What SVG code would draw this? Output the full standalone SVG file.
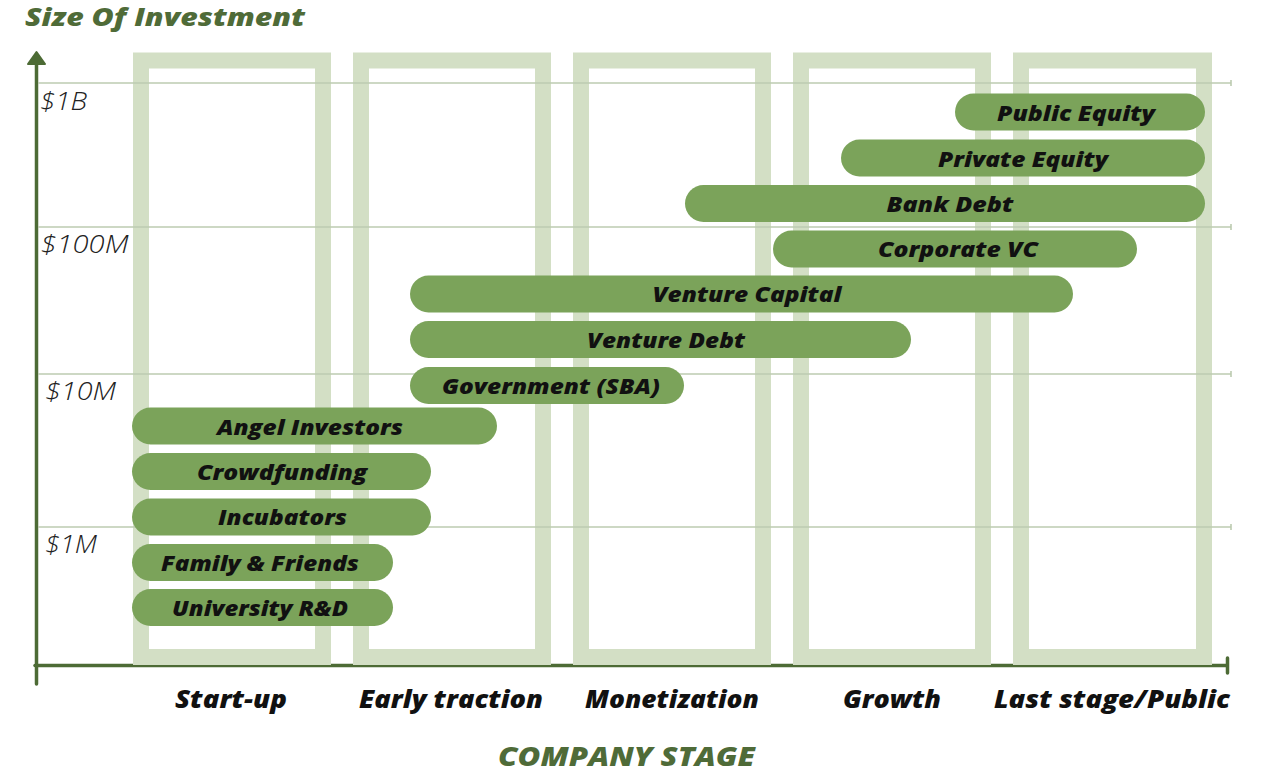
<svg xmlns="http://www.w3.org/2000/svg" width="1272" height="774" viewBox="0 0 1272 774">
<style>
.bg{fill:#ffffff}
.frame{fill:none;stroke:#d3dfc5;stroke-width:16}
.grid{stroke:#bccbb0;stroke-width:1.6;fill:none}
.axis{stroke:#4d6b35;stroke-width:3.5;fill:none;stroke-linecap:round}
.bar{fill:#7ba35a}
.bl{font-family:"Open Sans","Noto Sans",sans-serif;font-weight:800;font-style:italic;font-size:21px;fill:#111111;text-anchor:middle}
.yl{font-family:"Open Sans","Noto Sans",sans-serif;font-weight:300;font-style:italic;font-size:25px;fill:#222222}
.xl{font-family:"Open Sans","Noto Sans",sans-serif;font-weight:800;font-style:italic;font-size:25px;fill:#111111;text-anchor:middle}
.ttl{font-family:"Open Sans","Noto Sans",sans-serif;font-weight:800;font-style:italic;fill:#4f6b38}
</style>
<rect class="bg" x="0" y="0" width="1272" height="774"/>

<g id="axes">
  <line class="axis" x1="36.5" y1="60" x2="36.5" y2="684"/>
  <polygon points="36.5,52 28,64 45,64" fill="#4d6b35" stroke="#4d6b35" stroke-width="2" stroke-linejoin="round"/>
  <line class="axis" x1="35" y1="665.5" x2="1227" y2="665.5" stroke-linecap="butt"/>
  <line class="axis" x1="1227.5" y1="658" x2="1227.5" y2="673"/>
</g>

<g id="stage-frames">
  <rect class="frame" x="141" y="60.5" width="182" height="596.5"/>
  <rect class="frame" x="361" y="60.5" width="182" height="596.5"/>
  <rect class="frame" x="581" y="60.5" width="182" height="596.5"/>
  <rect class="frame" x="801" y="60.5" width="182" height="596.5"/>
  <rect class="frame" x="1021" y="60.5" width="183" height="596.5"/>
</g>

<g id="gridlines">
  <line class="grid" x1="38" y1="83" x2="1231" y2="83"/>
  <line class="grid" x1="1231" y1="80" x2="1231" y2="86"/>
  <line class="grid" x1="38" y1="227" x2="1231" y2="227"/>
  <line class="grid" x1="1231" y1="224" x2="1231" y2="230"/>
  <line class="grid" x1="38" y1="374" x2="1231" y2="374"/>
  <line class="grid" x1="1231" y1="371" x2="1231" y2="377"/>
  <line class="grid" x1="38" y1="527" x2="1231" y2="527"/>
  <line class="grid" x1="1231" y1="524" x2="1231" y2="530"/>
</g>

<g id="y-labels">
  <text class="yl" x="40" y="110" textLength="47" lengthAdjust="spacingAndGlyphs">$1B</text>
  <text class="yl" x="40.5" y="253" textLength="88" lengthAdjust="spacingAndGlyphs">$100M</text>
  <text class="yl" x="45" y="400" textLength="71" lengthAdjust="spacingAndGlyphs">$10M</text>
  <text class="yl" x="45" y="552.5" textLength="52" lengthAdjust="spacingAndGlyphs">$1M</text>
</g>

<g id="public-equity"><rect class="bar" x="955" y="93.5" width="250" height="37" rx="18.5"/><text class="bl" x="1076" y="120.5" textLength="158" lengthAdjust="spacingAndGlyphs">Public Equity</text></g>
<g id="private-equity"><rect class="bar" x="841" y="139.5" width="364" height="37" rx="18.5"/><text class="bl" x="1023" y="166.5" textLength="170" lengthAdjust="spacingAndGlyphs">Private Equity</text></g>
<g id="bank-debt"><rect class="bar" x="685" y="185" width="520" height="37" rx="18.5"/><text class="bl" x="950" y="211.5" textLength="127" lengthAdjust="spacingAndGlyphs">Bank Debt</text></g>
<g id="corporate-vc"><rect class="bar" x="773" y="230.5" width="364" height="37" rx="18.5"/><text class="bl" x="958" y="257" textLength="160" lengthAdjust="spacingAndGlyphs">Corporate VC</text></g>
<g id="venture-capital"><rect class="bar" x="410" y="275.5" width="663" height="37" rx="18.5"/><text class="bl" x="747" y="302" textLength="189" lengthAdjust="spacingAndGlyphs">Venture Capital</text></g>
<g id="venture-debt"><rect class="bar" x="410" y="321" width="501" height="37" rx="18.5"/><text class="bl" x="666" y="347.5" textLength="158" lengthAdjust="spacingAndGlyphs">Venture Debt</text></g>
<g id="government-sba"><rect class="bar" x="410" y="367" width="274" height="37" rx="18.5"/><text class="bl" x="551" y="393.5" textLength="218" lengthAdjust="spacingAndGlyphs">Government (SBA)</text></g>
<g id="angel-investors"><rect class="bar" x="132" y="407.5" width="365" height="37" rx="18.5"/><text class="bl" x="310" y="434.5" textLength="186" lengthAdjust="spacingAndGlyphs">Angel Investors</text></g>
<g id="crowdfunding"><rect class="bar" x="132" y="453" width="299" height="37" rx="18.5"/><text class="bl" x="282" y="479.5" textLength="170" lengthAdjust="spacingAndGlyphs">Crowdfunding</text></g>
<g id="incubators"><rect class="bar" x="132" y="498.5" width="299" height="37" rx="18.5"/><text class="bl" x="282.5" y="525" textLength="129" lengthAdjust="spacingAndGlyphs">Incubators</text></g>
<g id="family-friends"><rect class="bar" x="132" y="544" width="261" height="37" rx="18.5"/><text class="bl" x="260" y="570.5" textLength="198" lengthAdjust="spacingAndGlyphs">Family &amp; Friends</text></g>
<g id="university-rd"><rect class="bar" x="132" y="589" width="261" height="37" rx="18.5"/><text class="bl" x="260" y="615.5" textLength="176" lengthAdjust="spacingAndGlyphs">University R&amp;D</text></g>

<g id="x-labels">
  <text class="xl" x="231" y="707.5" textLength="112" lengthAdjust="spacingAndGlyphs">Start-up</text>
  <text class="xl" x="451" y="707.5" textLength="184" lengthAdjust="spacingAndGlyphs">Early traction</text>
  <text class="xl" x="672" y="707.5" textLength="174" lengthAdjust="spacingAndGlyphs">Monetization</text>
  <text class="xl" x="892" y="707.5" textLength="98" lengthAdjust="spacingAndGlyphs">Growth</text>
  <text class="xl" x="1112" y="707.5" textLength="236" lengthAdjust="spacingAndGlyphs">Last stage/Public</text>
</g>

<g id="titles">
  <text class="ttl" x="25" y="26" font-size="25" textLength="280" lengthAdjust="spacingAndGlyphs">Size Of Investment</text>
  <text class="ttl" x="498" y="766" font-size="27" textLength="257" lengthAdjust="spacingAndGlyphs">COMPANY STAGE</text>
</g>
</svg>
